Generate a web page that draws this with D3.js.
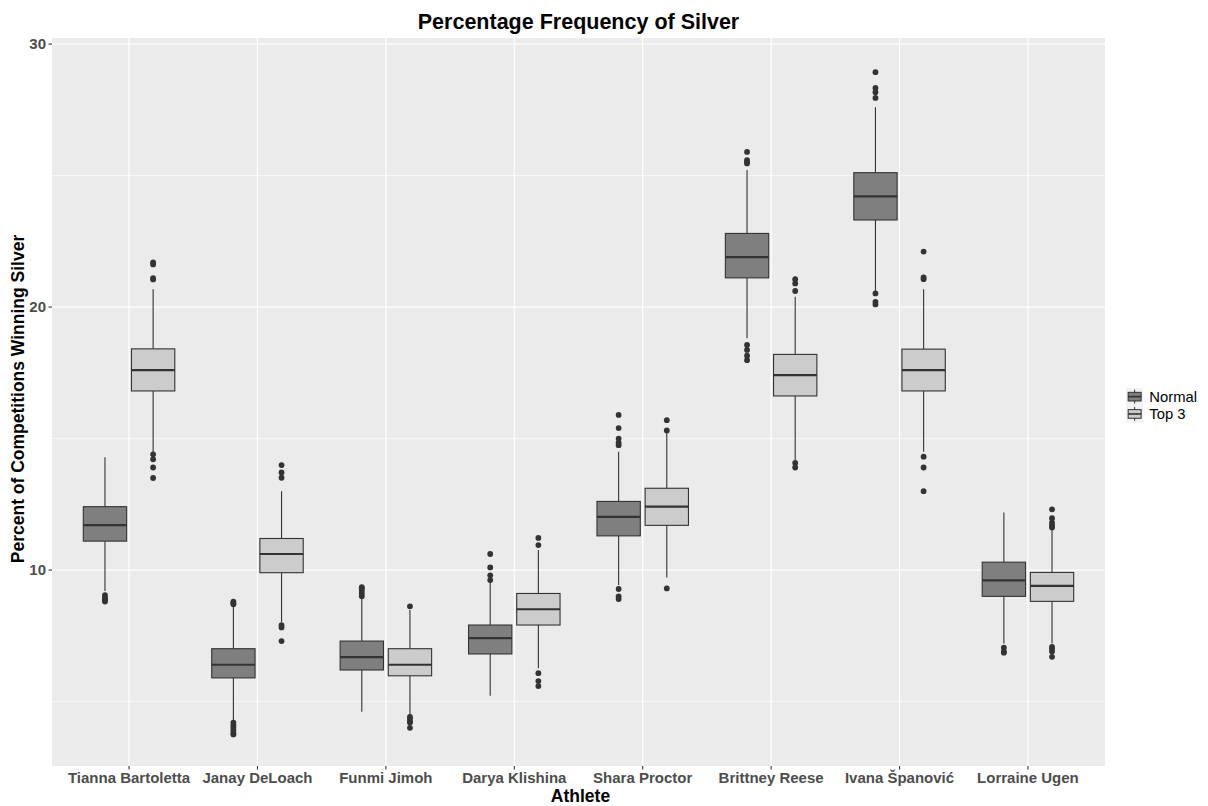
<!DOCTYPE html>
<html>
<head>
<meta charset="utf-8">
<script src="https://cdn.jsdelivr.net/npm/d3@7"></script>
<style>
  html, body { margin: 0; padding: 0; background: #ffffff; }
  svg { display: block; font-family: "Liberation Sans", Arial, Helvetica, sans-serif; }
</style>
</head>
<body>
<svg id="chart" width="1208" height="806"></svg>
<script>
// ---------- Data ----------
const athletes = ["Tianna Bartoletta", "Janay DeLoach", "Funmi Jimoh", "Darya Klishina",
                  "Shara Proctor", "Brittney Reese", "Ivana Španović", "Lorraine Ugen"];
const groups = ["Normal", "Top 3"];
const yTicks = [10, 20, 30];
const yMinorTicks = [5, 15, 25];

// [lower whisker, Q1, median, Q3, upper whisker]
const normalStats = [
  [9.2, 11.10, 11.71, 12.41, 14.29],
  [4.25, 5.90, 6.40, 7.01, 8.65],
  [4.61, 6.20, 6.69, 7.30, 8.95],
  [5.22, 6.81, 7.41, 7.91, 9.55],
  [9.43, 11.30, 12.02, 12.61, 14.50],
  [18.81, 21.11, 21.90, 22.80, 25.21],
  [20.56, 23.31, 24.21, 25.11, 27.60],
  [7.21, 9.00, 9.61, 10.30, 12.19]
];
const top3Stats = [
  [14.49, 16.81, 17.60, 18.41, 20.68],
  [8.03, 9.90, 10.61, 11.20, 13.00],
  [4.49, 5.98, 6.40, 7.01, 8.48],
  [6.27, 7.91, 8.51, 9.11, 10.76],
  [9.72, 11.70, 12.41, 13.11, 15.30],
  [14.18, 16.62, 17.41, 18.20, 20.39],
  [14.50, 16.81, 17.60, 18.40, 20.68],
  [7.21, 8.81, 9.40, 9.91, 11.52]
];
const normalOutliers = [
  [9.05, 8.95, 8.90, 8.85, 8.80],
  [8.70, 8.75, 8.80, 4.20, 4.10, 4.00, 3.90, 3.80, 3.75],
  [9.00, 9.10, 9.20, 9.30, 9.35],
  [9.62, 9.80, 10.10, 10.61],
  [14.75, 14.84, 15.00, 15.40, 15.90, 9.28, 9.00, 8.90],
  [25.46, 25.52, 25.59, 25.90, 18.56, 18.37, 18.15, 17.98],
  [27.95, 28.17, 28.33, 28.93, 20.52, 20.20, 20.10],
  [7.05, 6.90, 6.86]
];
const top3Outliers = [
  [21.05, 21.10, 21.62, 21.70, 14.40, 14.21, 13.90, 13.50],
  [13.51, 13.71, 13.99, 7.91, 7.82, 7.30],
  [8.62, 4.42, 4.35, 4.25, 4.20, 4.00],
  [10.95, 11.22, 6.08, 5.78, 5.59],
  [15.31, 15.70, 9.30],
  [20.61, 20.90, 21.06, 14.07, 13.90],
  [21.06, 21.13, 22.11, 14.31, 13.90, 13.00],
  [11.62, 11.70, 11.80, 11.97, 12.31, 7.08, 7.00, 6.90, 6.70]
];

// ---------- Layout ----------
const panel = { left: 52, right: 1105, top: 38, bottom: 766 };
const fills = { "Normal": "#7f7f7f", "Top 3": "#cccccc" };
const stroke = "#333333";

const svg = d3.select("#chart");

// ggplot discrete expansion: 0.6 unit on each side
const n = athletes.length;
const unit = (panel.right - panel.left) / (n - 1 + 1.2);
const xc = d3.scalePoint().domain(athletes)
  .range([panel.left + 0.6 * unit, panel.right - 0.6 * unit]);
const y = d3.scaleLinear().domain([2.55, 30.23]).range([panel.bottom, panel.top]);

const boxW = unit * 0.375 * 0.9;
const dodge = d3.scaleBand().domain(groups).range([-unit * 0.375, unit * 0.375]);

// Panel background
svg.append("rect")
  .attr("x", panel.left).attr("y", panel.top)
  .attr("width", panel.right - panel.left).attr("height", panel.bottom - panel.top)
  .attr("fill", "#ebebeb");

// Grid
const grid = svg.append("g");
grid.selectAll(".minor").data(yMinorTicks).join("line")
  .attr("x1", panel.left).attr("x2", panel.right)
  .attr("y1", d => y(d)).attr("y2", d => y(d))
  .attr("stroke", "#ffffff").attr("stroke-width", 0.6);
grid.selectAll(".major").data(yTicks).join("line")
  .attr("x1", panel.left).attr("x2", panel.right)
  .attr("y1", d => y(d)).attr("y2", d => y(d))
  .attr("stroke", "#ffffff").attr("stroke-width", 1.2);
grid.selectAll(".vmajor").data(athletes).join("line")
  .attr("x1", d => xc(d)).attr("x2", d => xc(d))
  .attr("y1", panel.top).attr("y2", panel.bottom)
  .attr("stroke", "#ffffff").attr("stroke-width", 1.2);

// Boxplots
const series = [
  { group: "Normal", stats: normalStats, outliers: normalOutliers },
  { group: "Top 3", stats: top3Stats, outliers: top3Outliers }
];
const marks = svg.append("g");
series.forEach(s => {
  athletes.forEach((a, i) => {
    const cx = xc(a) + dodge(s.group) + dodge.bandwidth() / 2;
    const [lw, q1, med, q3, uw] = s.stats[i];
    const g = marks.append("g");
    g.append("line").attr("x1", cx).attr("x2", cx).attr("y1", y(q3)).attr("y2", y(uw))
      .attr("stroke", stroke).attr("stroke-width", 1.1);
    g.append("line").attr("x1", cx).attr("x2", cx).attr("y1", y(q1)).attr("y2", y(lw))
      .attr("stroke", stroke).attr("stroke-width", 1.1);
    g.append("rect").attr("x", cx - boxW / 2).attr("width", boxW)
      .attr("y", y(q3)).attr("height", y(q1) - y(q3))
      .attr("fill", fills[s.group]).attr("stroke", stroke).attr("stroke-width", 1.1);
    g.append("line").attr("x1", cx - boxW / 2).attr("x2", cx + boxW / 2)
      .attr("y1", y(med)).attr("y2", y(med))
      .attr("stroke", stroke).attr("stroke-width", 2.2);
    g.selectAll("circle").data(s.outliers[i]).join("circle")
      .attr("cx", cx).attr("cy", d => y(d)).attr("r", 2.9)
      .attr("fill", stroke);
  });
});

// Y axis
const yAxis = svg.append("g");
yAxis.selectAll("line").data(yTicks).join("line")
  .attr("x1", panel.left - 3.5).attr("x2", panel.left)
  .attr("y1", d => y(d)).attr("y2", d => y(d))
  .attr("stroke", "#333333").attr("stroke-width", 1.1);
yAxis.selectAll("text").data(yTicks).join("text")
  .attr("x", panel.left - 6).attr("y", d => y(d)).attr("dy", "0.36em")
  .attr("text-anchor", "end").attr("font-size", 15).attr("font-weight", "bold")
  .attr("fill", "#4d4d4d").text(d => d);

// X axis
const xAxis = svg.append("g");
xAxis.selectAll("line").data(athletes).join("line")
  .attr("x1", d => xc(d)).attr("x2", d => xc(d))
  .attr("y1", panel.bottom).attr("y2", panel.bottom + 3.5)
  .attr("stroke", "#333333").attr("stroke-width", 1.1);
xAxis.selectAll("text").data(athletes).join("text")
  .attr("x", d => xc(d)).attr("y", panel.bottom + 17)
  .attr("text-anchor", "middle").attr("font-size", 15).attr("font-weight", "bold")
  .attr("fill", "#4d4d4d").text(d => d);

// Titles
svg.append("text").attr("x", (panel.left + panel.right) / 2).attr("y", 29)
  .attr("text-anchor", "middle").attr("font-size", 21.5).attr("font-weight", "bold")
  .attr("fill", "#000").text("Percentage Frequency of Silver");
svg.append("text").attr("x", (panel.left + panel.right) / 2 + 2).attr("y", 801.5)
  .attr("text-anchor", "middle").attr("font-size", 17.5).attr("font-weight", "bold")
  .attr("fill", "#000").text("Athlete");
svg.append("text")
  .attr("transform", `translate(23.5, ${(panel.top + panel.bottom) / 2 - 3}) rotate(-90)`)
  .attr("text-anchor", "middle").attr("font-size", 17.5).attr("font-weight", "bold")
  .attr("fill", "#000").text("Percent of Competitions Winning Silver");

// Legend
const legend = svg.append("g").attr("transform", "translate(1126, 388)");
groups.forEach((gname, i) => {
  const k = legend.append("g").attr("transform", `translate(0, ${i * 17.3})`);
  const s = 17.3;
  k.append("rect").attr("width", s).attr("height", s).attr("fill", "#f2f2f2");
  k.append("line").attr("x1", s / 2).attr("x2", s / 2).attr("y1", s * 0.1).attr("y2", s * 0.9)
    .attr("stroke", stroke).attr("stroke-width", 1);
  k.append("rect").attr("x", s * 0.125).attr("width", s * 0.75).attr("y", s * 0.25).attr("height", s * 0.5)
    .attr("fill", fills[gname]).attr("stroke", stroke).attr("stroke-width", 1);
  k.append("line").attr("x1", s * 0.125).attr("x2", s * 0.875).attr("y1", s / 2).attr("y2", s / 2)
    .attr("stroke", stroke).attr("stroke-width", 1.6);
  k.append("text").attr("x", s + 6).attr("y", s / 2).attr("dy", "0.36em")
    .attr("font-size", 14.8).attr("fill", "#000").text(gname);
});
</script>
</body>
</html>
